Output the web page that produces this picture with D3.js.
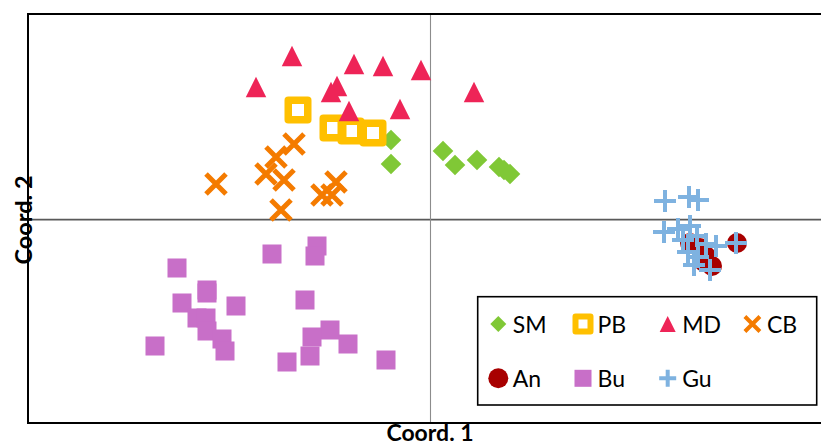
<!DOCTYPE html>
<html>
<head>
<meta charset="utf-8">
<script src="https://cdn.jsdelivr.net/npm/d3@7"></script>
<style>
  body { margin: 0; background: #fff; }
  svg { display: block; font-family: Lato, 'Open Sans', sans-serif; }
</style>
</head>
<body>
<svg id="chart" width="821" height="444"></svg>
<script>
// PCoA coordinates per group (Coord. 1 / Coord. 2)
const smX = [-0.039, -0.039, 0.013, 0.025, 0.047, 0.069, 0.074, 0.080];
const smY = [0.079, 0.055, 0.068, 0.054, 0.059, 0.052, 0.049, 0.045];

const pbX = [-0.132, -0.097, -0.079, -0.057];
const pbY = [0.109, 0.091, 0.088, 0.086];

const mdX = [-0.138, -0.174, -0.076, -0.047, -0.009, 0.044, -0.030, -0.099, -0.093, -0.081];
const mdY = [0.163, 0.132, 0.155, 0.153, 0.149, 0.127, 0.110, 0.127, 0.133, 0.108];

const cbX = [-0.214, -0.136, -0.154, -0.164, -0.146, -0.149, -0.094, -0.108, -0.098];
const cbY = [0.035, 0.075, 0.062, 0.045, 0.039, 0.009, 0.037, 0.024, 0.024];

const anX = [0.260, 0.270, 0.276, 0.274, 0.282, 0.307];
const anY = [-0.024, -0.029, -0.037, -0.043, -0.047, -0.024];

const buX = [-0.275, -0.253, -0.248, -0.223, -0.223, -0.194, -0.233, -0.224, -0.223, -0.208, -0.205,
             -0.158, -0.113, -0.115, -0.125, -0.100, -0.118, -0.120, -0.082, -0.143, -0.044];
const buY = [-0.127, -0.049, -0.084, -0.071, -0.074, -0.087, -0.099, -0.099, -0.112, -0.120, -0.132,
             -0.035, -0.027, -0.037, -0.081, -0.111, -0.118, -0.137, -0.125, -0.143, -0.141];

const guX = [0.235, 0.259, 0.268, 0.234, 0.248, 0.260, 0.253, 0.267, 0.276, 0.286, 0.258, 0.268, 0.264, 0.280, 0.306];
const guY = [0.018, 0.022, 0.019, -0.013, -0.010, -0.007, -0.021, -0.017, -0.025, -0.027, -0.033, -0.038, -0.046, -0.051, -0.024];

// drawing order = series order
const groups = ['SM', 'PB', 'MD', 'CB', 'An', 'Bu', 'Gu'];
const groupData = {
  SM: [smX, smY], PB: [pbX, pbY], MD: [mdX, mdY], CB: [cbX, cbY],
  An: [anX, anY], Bu: [buX, buY], Gu: [guX, guY]
};
const legendRows = [['SM', 'PB', 'MD', 'CB'], ['An', 'Bu', 'Gu']];

// marker look, plot size / legend size
const markers = {
  SM: { shape: 'diamond', color: '#80C836', size: 10.3, lsize: 8 },
  PB: { shape: 'hollow', color: '#FFC000', size: 19.5, lsize: 15, width: 7.5, lwidth: 6 },
  MD: { shape: 'triangle', color: '#EE2457', size: 20.5, lsize: 16 },
  CB: { shape: 'x', color: '#F47B00', size: 10, lsize: 7.5, width: 5, lwidth: 4 },
  An: { shape: 'circle', color: '#A80000', size: 10, lsize: 10 },
  Bu: { shape: 'square', color: '#C86FC8', size: 19, lsize: 17 },
  Gu: { shape: 'plus', color: '#7EB2E0', size: 11, lsize: 8.5, width: 4, lwidth: 4 }
};

const svg = d3.select('#chart');
const plotLeft = 28, plotRight = 823, plotTop = 14, plotBottom = 423;

let x = d3.scaleLinear().domain([-0.402, 0.393]).range([plotLeft, plotRight]);
let y = d3.scaleLinear().domain([-0.204, 0.205]).range([plotBottom, plotTop]);

//draws one marker into a translated group
const drawMarker = (g, key, legend) => {
  const m = markers[key];
  const s = legend ? m.lsize : m.size;
  const w = legend ? m.lwidth : m.width;
  if (m.shape === 'diamond') {
    g.append('path').attr('d', `M0,${-s}L${s},0L0,${s}L${-s},0Z`).attr('fill', m.color);
  } else if (m.shape === 'triangle') {
    g.append('path').attr('d', `M0,${-s / 2}L${s / 2},${s / 2}L${-s / 2},${s / 2}Z`).attr('fill', m.color);
  } else if (m.shape === 'circle') {
    g.append('circle').attr('r', s).attr('fill', m.color);
  } else if (m.shape === 'square') {
    g.append('rect').attr('x', -s / 2).attr('y', -s / 2).attr('width', s).attr('height', s).attr('fill', m.color);
  } else if (m.shape === 'hollow') {
    g.append('rect').attr('x', -s / 2).attr('y', -s / 2).attr('width', s).attr('height', s)
      .attr('fill', 'none').attr('stroke', m.color).attr('stroke-width', w).attr('stroke-linejoin', 'round');
  } else if (m.shape === 'x') {
    g.append('path').attr('d', `M${-s},${-s}L${s},${s}M${-s},${s}L${s},${-s}`)
      .attr('stroke', m.color).attr('stroke-width', w).attr('fill', 'none');
  } else if (m.shape === 'plus') {
    g.append('path').attr('d', `M${-s},0L${s},0M0,${-s}L0,${s}`)
      .attr('stroke', m.color).attr('stroke-width', w).attr('fill', 'none');
  }
};

// zero lines through the origin
svg.append('g')
  .attr('transform', 'translate(0,' + y(0) + ')')
  .call(d3.axisBottom(x).tickValues([]).tickSizeOuter(0))
  .call((g) => g.select('.domain').attr('stroke', '#595959').attr('stroke-width', 1.75));
svg.append('g')
  .attr('transform', 'translate(' + x(0) + ',0)')
  .call(d3.axisLeft(y).tickValues([]).tickSizeOuter(0))
  .call((g) => g.select('.domain').attr('stroke', '#8c8c8c').attr('stroke-width', 1.1));

// frame
svg.append('rect')
  .attr('x', plotLeft).attr('y', plotTop)
  .attr('width', plotRight - plotLeft).attr('height', plotBottom - plotTop)
  .attr('fill', 'none').attr('stroke', '#000').attr('stroke-width', 2);

// points
groups.forEach((key) => {
  const [xs, ys] = groupData[key];
  const pts = xs.map((v, i) => ({ x: v, y: ys[i] }));
  svg.append('g').selectAll('g')
    .data(pts)
    .enter()
    .append('g')
    .attr('transform', (d) => 'translate(' + x(d.x) + ',' + y(d.y) + ')')
    .each(function () { drawMarker(d3.select(this), key, false); });
});

// legend
const lg = svg.append('g');
lg.append('rect')
  .attr('x', 477.7).attr('y', 296.7).attr('width', 339).attr('height', 108.3)
  .attr('fill', '#fff').attr('stroke', '#000').attr('stroke-width', 1.6);
legendRows.forEach((row, r) => {
  row.forEach((key, c) => {
    const item = lg.append('g').attr('transform', 'translate(' + (498.3 + c * 84.7) + ',' + (324 + r * 54.3) + ')');
    drawMarker(item, key, true);
    item.append('text')
      .attr('x', 14.5).attr('y', 8.5)
      .style('font-size', '23px')
      .attr('fill', '#000')
      .text(key);
  });
});

// axis titles
svg.append('text')
  .attr('x', 430).attr('y', 441)
  .attr('text-anchor', 'middle')
  .style('font-size', '23px').style('font-weight', 'bold')
  .text('Coord. 1');
svg.append('text')
  .attr('transform', 'translate(31.5,220) rotate(-90)')
  .attr('text-anchor', 'middle')
  .style('font-size', '23.5px').style('font-weight', 'bold')
  .text('Coord. 2');
</script>
</body>
</html>
